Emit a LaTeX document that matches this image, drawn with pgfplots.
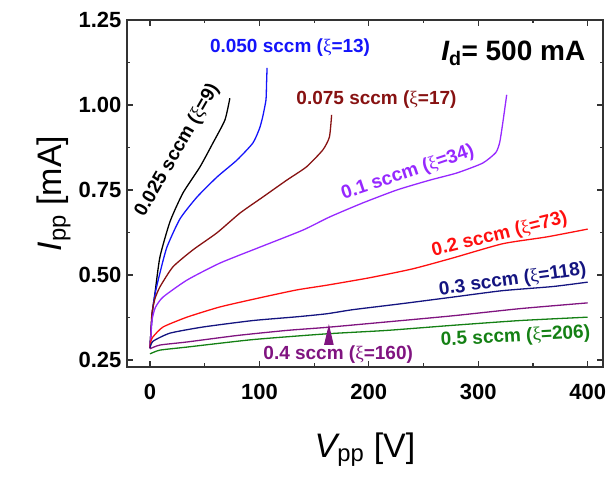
\documentclass[border=0pt]{standalone}
\usepackage{pgfplots}
\pgfplotsset{compat=1.18}
\usepackage{fontspec}
\setmainfont{Liberation Sans}
\newfontfamily\xifont{Liberation Serif}
\definecolor{cblue}{RGB}{20,20,250}
\definecolor{cbrown}{RGB}{135,18,18}
\definecolor{cviolet}{RGB}{150,40,255}
\definecolor{cred}{RGB}{255,15,15}
\definecolor{cnavy}{RGB}{20,20,128}
\definecolor{cmag}{RGB}{128,20,128}
\definecolor{cgreen}{RGB}{20,128,20}
\newcommand{\XI}{{\xifont\mdseries ξ}}
\newcommand{\annfont}{\fontsize{19}{22}\selectfont\bfseries}
\begin{document}
\begin{tikzpicture}
\useasboundingbox (-127pt,-112pt) rectangle (484pt,367pt);
\begin{axis}[
  scale only axis, width=476pt, height=347pt,
  xmin=-21, xmax=414, ymin=0.2294, ymax=1.25,
  xtick={0,100,200,300,400}, minor xtick={50,150,250,350},
  ytick={0.25,0.5,0.75,1,1.25}, minor ytick={0.375,0.625,0.875,1.125},
  tick align=inside, major tick length=6pt, minor tick length=3.5pt,
  axis line style={line width=1.5pt, black!80},
  every tick/.style={black!80, line width=1.2pt},
  ticklabel style={font=\fontsize{22}{24}\selectfont\bfseries},
  /pgf/number format/assume math mode=true,
  yticklabel style={/pgf/number format/fixed, /pgf/number format/fixed zerofill, /pgf/number format/precision=2, xshift=-2pt},
  xticklabel style={yshift=-14pt},
  xlabel={{\itshape V}\textsubscript{pp} [V]},
  ylabel={{\itshape I}\textsubscript{pp} [mA]},
  label style={font=\fontsize{34}{38}\selectfont},
  xlabel style={at={(axis description cs:0.5,0)}, anchor=north, yshift=-62pt},
  ylabel style={at={(axis description cs:0,0.5)}, anchor=south, yshift=53pt},
  every axis plot/.append style={line width=1.3pt, smooth, tension=0.35},
  clip=false,
]
\addplot[black] coordinates {(0,0.285) (1,0.34) (2.5,0.40) (4.6,0.447) (9.1,0.553) (18.3,0.657) (30.1,0.741) (45.7,0.818) (57.5,0.888) (68.5,0.956) (73,1.02)};
\addplot[cblue] coordinates {(0,0.285) (1,0.34) (2.5,0.40) (5,0.45) (9.1,0.506) (15.5,0.582) (27.4,0.665) (42.9,0.729) (61.2,0.788) (79.5,0.838) (94,0.888) (100,0.93) (103,0.965) (106,1.015) (106.5,1.06) (107,1.109)};
\addplot[cbrown] coordinates {(0,0.285) (0.8,0.33) (1.8,0.388) (4.5,0.43) (9.1,0.465) (21,0.524) (39.3,0.574) (61.2,0.624) (82.2,0.682) (103,0.729) (125,0.779) (143,0.818) (158,0.868) (164,0.906) (166,0.971)};
\addplot[cviolet] coordinates {(0,0.285) (0.8,0.32) (2,0.37) (5,0.405) (11.9,0.435) (33.8,0.485) (63.9,0.535) (100.5,0.582) (139.7,0.632) (164.4,0.671) (194.5,0.712) (225.6,0.75) (255.7,0.779) (280.4,0.8) (304,0.829) (316,0.86) (319.6,0.89) (322.4,0.947) (326,1.03)};
\addplot[cred] coordinates {(0,0.285) (0.8,0.305) (2.7,0.318) (11.9,0.347) (33.8,0.376) (63.9,0.406) (100.5,0.433) (134,0.456) (161.6,0.47) (200.9,0.492) (240,0.518) (276.7,0.55) (322.4,0.592) (362.6,0.612) (400,0.635)};
\addplot[cnavy] coordinates {(0,0.285) (2.7,0.305) (18.3,0.329) (48.4,0.347) (94,0.366) (134,0.377) (161.6,0.386) (185.4,0.398) (231,0.416) (276.7,0.435) (322.4,0.454) (368,0.466) (400,0.479)};
\addplot[cmag] coordinates {(0,0.283) (9.1,0.294) (33.8,0.303) (79.5,0.322) (125,0.337) (161.6,0.346) (216.4,0.362) (276.7,0.38) (338,0.401) (400,0.418)};
\addplot[cgreen] coordinates {(0,0.268) (9.1,0.279) (33.8,0.288) (94,0.31) (161.6,0.327) (216.4,0.337) (276.7,0.352) (338,0.366) (400,0.376)};
\addplot[only marks, mark=triangle*, mark size=6pt, color=cmag, mark options={xscale=0.77, yscale=1.9}] coordinates {(163.5,0.3135)};
\node[black, rotate=60, font=\annfont] at (axis cs:25,0.866) {0.025 sccm (\XI=9)};
\node[cblue, font=\annfont] at (axis cs:128,1.17) {0.050 sccm (\XI=13)};
\node[cbrown, font=\annfont] at (axis cs:207,1.017) {0.075 sccm (\XI=17)};
\node[cviolet, rotate=18.6, font=\annfont] at (axis cs:235.6,0.80) {0.1 sccm (\XI=34)};
\node[cred, rotate=14, font=\annfont] at (axis cs:319.6,0.618) {0.2 sccm (\XI=73)};
\node[cnavy, rotate=8, font=\annfont] at (axis cs:331.5,0.485) {0.3 sccm (\XI=118)};
\node[cmag, font=\annfont] at (axis cs:172,0.265) {0.4 sccm (\XI=160)};
\node[cgreen, rotate=3, font=\annfont] at (axis cs:334,0.318) {0.5 sccm (\XI=206)};
\node[black, font=\fontsize{28}{32}\selectfont\bfseries] at (axis cs:332,1.152) {{\itshape I}\textsubscript{d}= 500 mA};
\end{axis}
\end{tikzpicture}
\end{document}
